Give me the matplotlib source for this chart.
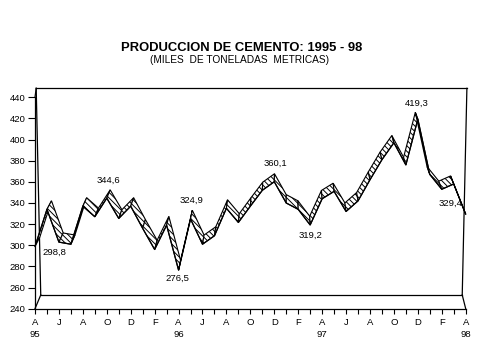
import matplotlib
matplotlib.use("Agg")
import matplotlib.pyplot as plt
from matplotlib.patches import Polygon
import numpy as np

plt.rcParams['font.family'] = ['Liberation Sans', 'DejaVu Sans']
plt.rcParams['hatch.linewidth'] = 0.7

# ---- data ----
months = ["A", "M", "J", "J", "A", "S", "O", "N", "D", "E", "F", "M"] * 3 + ["A"]
years = {0: "95", 12: "96", 24: "97", 36: "98"}
values = [298.8, 334, 303, 301, 337, 327, 344.6, 325.4, 337, 316, 296, 319,
          276.5, 324.9, 301, 309, 335, 321.6, 337, 352, 360.1, 340, 334, 319.2,
          344, 351, 332, 342, 362, 381, 397, 376, 419.3, 367, 353, 358, 329.4]
label_idx = [0, 6, 12, 13, 20, 23, 32, 36]
y_ticks = list(range(240, 441, 20))

title = "PRODUCCION DE CEMENTO: 1995 - 98"
subtitle = "(MILES  DE TONELADAS  METRICAS)"

# ---- style ----
label_offsets = [(19, -6), (2, 18), (-1.5, -8), (1.5, 19), (1, 18), (0, -10), (-1, 16), (-15, 11)]
VX, VY, K = 20.9, 758.0, 0.019   # perspective vanishing point & ribbon depth factor

W, H = 479, 359
fig = plt.figure(figsize=(W / 100, H / 100), dpi=100)
ax = fig.add_axes([35 / W, (H - 308.7) / H, (465.7 - 35) / W, (308.7 - 97.3) / H])
ax.set_xlim(0, len(values) - 1)
ax.set_ylim(240, 440)

x = np.arange(len(values), dtype=float)
y = np.array(values)
xb = x + (VX - x) * K
yb = y + (VY - y) * K

# ribbon segments
for i in range(len(x) - 1):
    pts = [(x[i], y[i]), (x[i + 1], y[i + 1]), (xb[i + 1], yb[i + 1]), (xb[i], yb[i])]
    poly = Polygon(pts, closed=True, facecolor="white", edgecolor="black",
                   hatch="\\\\\\\\\\\\", linewidth=0.8, clip_on=False, zorder=3 + i * 0.01)
    ax.add_patch(poly)
ax.plot(x, y, color="black", lw=0.9, clip_on=False, zorder=4)

# 3D box lines
box_kw = dict(color="black", lw=0.9, clip_on=False, zorder=1)
ax.plot([0, 0.1], [440, 448.5], **box_kw)
ax.plot([0.1, 0.48], [448.5, 253], **box_kw)
ax.plot([0, 0.48], [240, 253], **box_kw)
ax.plot([0.48, 35.71], [253, 253], **box_kw)
ax.plot([0.1, 36.1], [448.5, 448.5], **box_kw)
ax.plot([36.1, 35.71], [448.5, 253], **box_kw)
ax.plot([35.71, 36], [253, 240], **box_kw)

# axes styling
for s in ["top", "right"]:
    ax.spines[s].set_visible(False)
for s in ["left", "bottom"]:
    ax.spines[s].set_linewidth(0.9)
ax.set_yticks(y_ticks)
ax.set_yticklabels([str(v) for v in y_ticks], fontsize=6.8)
ax.set_xticks(x)
xl = []
for i, m in enumerate(months):
    if i % 2 == 0:
        xl.append(m + ("\n" + years[i] if i in years else ""))
    else:
        xl.append("")
ax.set_xticklabels(xl, fontsize=6.8, linespacing=1.5)
ax.tick_params(axis="y", length=5, width=0.8, pad=2)
ax.tick_params(axis="x", length=3.5, width=0.8, pad=3)
ax.patch.set_visible(False)

# data labels
for idx, off in zip(label_idx, label_offsets):
    ax.annotate(f"{values[idx]:.1f}".replace(".", ","), (x[idx], y[idx]),
                xytext=off, textcoords="offset pixels", ha="center", va="center",
                fontsize=6.8, zorder=6)

fig.text(242 / W, 1 - 48 / H, title, ha="center", va="center", fontsize=9.4, fontweight="bold")
fig.text(240 / W, 1 - 60 / H, subtitle, ha="center", va="center", fontsize=7.3)

fig.savefig("out.png", dpi=100)
